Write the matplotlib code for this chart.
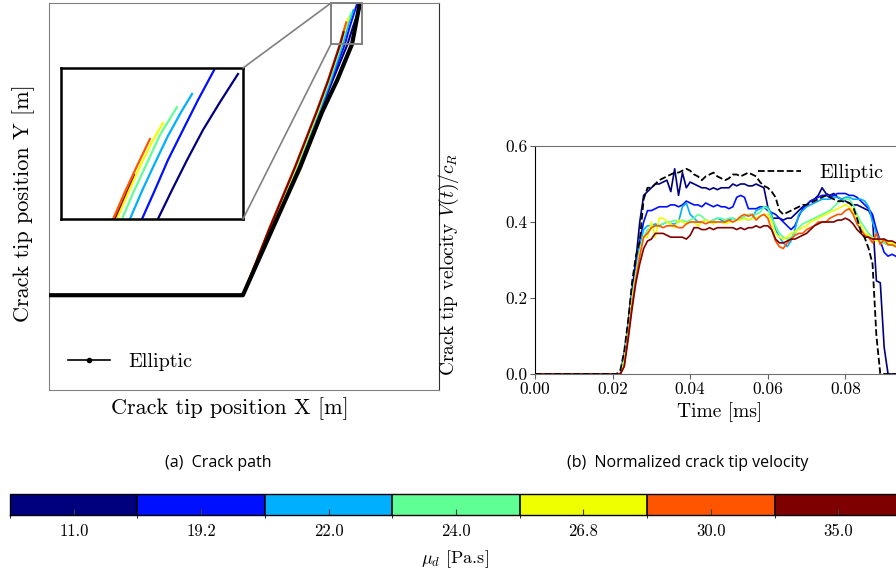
import numpy as np
import matplotlib
matplotlib.use('Agg')
import matplotlib.pyplot as plt
from matplotlib.colors import ListedColormap, BoundaryNorm
from matplotlib.cm import ScalarMappable
from matplotlib.lines import Line2D
from matplotlib.patches import Rectangle, ConnectionPatch
from matplotlib.ticker import FormatStrFormatter

plt.rcParams['font.family'] = 'serif'
plt.rcParams['font.serif'] = ['cmr10']
plt.rcParams['mathtext.fontset'] = 'cm'
plt.rcParams['axes.formatter.use_mathtext'] = True

# dynamic viscosity of each run and the colour used for it
mu_d = [11.0, 19.2, 22.0, 24.0, 26.8, 30.0, 35.0]
mu_colors = ['#00007f', '#0010ff', '#00b0ff', '#60ff96', '#f0ff00', '#ff5500', '#7f0000']

# crack paths (X, Y in m)
path_x_ell = [0.0, 0.0497, 0.0574, 0.0644, 0.0700, 0.0739, 0.0777, 0.0797]
path_y_ell = [0.0245, 0.0245, 0.0419, 0.0576, 0.0718, 0.0801, 0.0894, 0.1000]

path_x_mu11 = [0.0, 0.0497, 0.0571, 0.0638, 0.0695, 0.0727, 0.07656, 0.07718, 0.07784, 0.07854, 0.07929, 0.08008]
path_y_mu11 = [0.0245, 0.0245, 0.0419, 0.0576, 0.0718, 0.0800, 0.0894, 0.09144, 0.09354, 0.09565, 0.09761, 0.09958]
path_x_mu19 = [0.0, 0.0497, 0.0570, 0.0637, 0.0693, 0.0724, 0.07586, 0.07643, 0.07700, 0.07766, 0.07832, 0.07903]
path_y_mu19 = [0.0245, 0.0245, 0.0419, 0.0576, 0.0718, 0.0800, 0.0894, 0.09144, 0.09354, 0.09565, 0.09775, 0.09986]
path_x_mu22 = [0.0, 0.0497, 0.0569, 0.0636, 0.0692, 0.0722, 0.07533, 0.07586, 0.07643, 0.07700, 0.07758, 0.07806]
path_y_mu22 = [0.0245, 0.0245, 0.0419, 0.0576, 0.0718, 0.0800, 0.0894, 0.09137, 0.09333, 0.09523, 0.09691, 0.09818]
path_x_mu24 = [0.0, 0.0497, 0.0568, 0.0634, 0.0689, 0.0719, 0.07498, 0.07551, 0.07608, 0.07665, 0.07740]
path_y_mu24 = [0.0245, 0.0245, 0.0419, 0.0576, 0.0718, 0.0800, 0.0894, 0.09137, 0.09333, 0.09530, 0.09726]
path_x_mu27 = [0.0, 0.0497, 0.0567, 0.0633, 0.0688, 0.0717, 0.07476, 0.07529, 0.07582, 0.07630, 0.07678]
path_y_mu27 = [0.0245, 0.0245, 0.0419, 0.0576, 0.0718, 0.0800, 0.0894, 0.09137, 0.09326, 0.09481, 0.09614]
path_x_mu30 = [0.0, 0.0497, 0.0565, 0.0630, 0.0685, 0.0715, 0.07459, 0.07511, 0.07564, 0.07621]
path_y_mu30 = [0.0245, 0.0245, 0.0419, 0.0576, 0.0718, 0.0800, 0.0894, 0.09130, 0.09312, 0.09502]
path_x_mu35 = [0.0, 0.0497, 0.0566, 0.0631, 0.0686, 0.0716, 0.07467, 0.07511, 0.07551]
path_y_mu35 = [0.0245, 0.0245, 0.0419, 0.0576, 0.0718, 0.0800, 0.0894, 0.09094, 0.09249]

# crack tip velocity V/c_R sampled at t = 0 and every 1e-3 ms from 0.020 to 0.094 ms
time_ms = np.r_[0.0, np.arange(20, 95) / 1000.0]

vel_ell = [0.0,
           0, 0, 0.01, 0.06, 0.14, 0.24, 0.31, 0.35, 0.46,
           0.49, 0.49, 0.50, 0.51, 0.515, 0.52, 0.525, 0.53, 0.53, 0.535,
           0.54, 0.535, 0.525, 0.52, 0.51, 0.52, 0.525, 0.53, 0.52, 0.515,
           0.51, 0.515, 0.525, 0.525, 0.52, 0.525, 0.53, 0.525, 0.52, 0.505,
           0.495, 0.49, 0.48, 0.465, 0.43, 0.42, 0.425, 0.43, 0.435, 0.44,
           0.445, 0.445, 0.45, 0.455, 0.46, 0.465, 0.47, 0.465, 0.46, 0.455,
           0.455, 0.453, 0.45, 0.44, 0.41, 0.375, 0.358, 0.33, 0.29, 0.10,
           0.0, 0, 0, 0, 0, 0]
vel_mu11 = [0.0,
            0, 0, 0, 0.05, 0.13, 0.22, 0.30, 0.40, 0.47,
            0.48, 0.49, 0.50, 0.50, 0.505, 0.51, 0.48, 0.54, 0.47, 0.53,
            0.49, 0.505, 0.50, 0.495, 0.49, 0.49, 0.485, 0.49, 0.485, 0.49,
            0.49, 0.49, 0.50, 0.495, 0.50, 0.50, 0.495, 0.495, 0.50, 0.495,
            0.49, 0.44, 0.41, 0.41, 0.41, 0.405, 0.41, 0.41, 0.42, 0.43,
            0.44, 0.445, 0.455, 0.46, 0.47, 0.49, 0.475, 0.47, 0.475, 0.465,
            0.46, 0.455, 0.45, 0.445, 0.445, 0.44, 0.435, 0.43, 0.41, 0.245,
            0.24, 0.07, 0.0, 0, 0, 0]
vel_mu19 = [0.0,
            0, 0, 0, 0.05, 0.13, 0.21, 0.28, 0.35, 0.40,
            0.43, 0.43, 0.435, 0.44, 0.44, 0.44, 0.445, 0.445, 0.44, 0.445,
            0.455, 0.45, 0.445, 0.445, 0.44, 0.45, 0.445, 0.44, 0.445, 0.44,
            0.44, 0.435, 0.44, 0.465, 0.47, 0.465, 0.435, 0.435, 0.435, 0.44,
            0.44, 0.43, 0.425, 0.42, 0.41, 0.40, 0.39, 0.38, 0.39, 0.415,
            0.435, 0.445, 0.455, 0.46, 0.465, 0.47, 0.47, 0.465, 0.47, 0.475,
            0.475, 0.475, 0.47, 0.47, 0.465, 0.455, 0.445, 0.435, 0.42, 0.38,
            0.35, 0.32, 0.31, 0.315, 0.31, 0.30]
vel_mu22 = [0.0,
            0, 0, 0, 0.04, 0.12, 0.20, 0.27, 0.34, 0.38,
            0.39, 0.39, 0.395, 0.39, 0.395, 0.40, 0.395, 0.395, 0.40, 0.44,
            0.45, 0.42, 0.41, 0.40, 0.40, 0.405, 0.40, 0.405, 0.41, 0.405,
            0.40, 0.405, 0.41, 0.405, 0.41, 0.41, 0.405, 0.41, 0.43, 0.435,
            0.44, 0.44, 0.42, 0.38, 0.36, 0.345, 0.335, 0.35, 0.38, 0.42,
            0.43, 0.44, 0.445, 0.45, 0.455, 0.46, 0.46, 0.46, 0.465, 0.465,
            0.46, 0.465, 0.465, 0.46, 0.46, 0.46, 0.455, 0.44, 0.40, 0.37,
            0.35, 0.345, 0.34, 0.34, 0.34, 0.335]
vel_mu24 = [0.0,
            0, 0, 0, 0.04, 0.12, 0.20, 0.26, 0.32, 0.36,
            0.38, 0.385, 0.39, 0.39, 0.395, 0.40, 0.40, 0.405, 0.40, 0.405,
            0.40, 0.405, 0.41, 0.42, 0.415, 0.405, 0.40, 0.405, 0.41, 0.41,
            0.405, 0.41, 0.41, 0.405, 0.41, 0.415, 0.42, 0.42, 0.42, 0.425,
            0.44, 0.435, 0.41, 0.39, 0.37, 0.36, 0.355, 0.36, 0.37, 0.385,
            0.395, 0.40, 0.405, 0.41, 0.415, 0.42, 0.425, 0.43, 0.44, 0.45,
            0.455, 0.46, 0.46, 0.445, 0.42, 0.40, 0.385, 0.37, 0.36, 0.355,
            0.35, 0.345, 0.34, 0.34, 0.335, 0.335]
vel_mu27 = [0.0,
            0, 0, 0, 0.03, 0.11, 0.19, 0.26, 0.32, 0.36,
            0.36, 0.40, 0.36, 0.41, 0.41, 0.40, 0.395, 0.385, 0.405, 0.40,
            0.395, 0.40, 0.40, 0.39, 0.40, 0.405, 0.40, 0.395, 0.40, 0.40,
            0.395, 0.40, 0.40, 0.405, 0.405, 0.41, 0.405, 0.41, 0.41, 0.415,
            0.42, 0.42, 0.40, 0.37, 0.36, 0.355, 0.36, 0.37, 0.375, 0.38,
            0.385, 0.39, 0.40, 0.405, 0.41, 0.415, 0.42, 0.425, 0.43, 0.435,
            0.44, 0.445, 0.44, 0.43, 0.41, 0.39, 0.37, 0.365, 0.355, 0.35,
            0.355, 0.35, 0.345, 0.345, 0.34, 0.34]
vel_mu30 = [0.0,
            0, 0, 0, 0.02, 0.10, 0.18, 0.25, 0.31, 0.36,
            0.37, 0.385, 0.39, 0.39, 0.385, 0.39, 0.39, 0.39, 0.385, 0.385,
            0.395, 0.40, 0.40, 0.40, 0.40, 0.395, 0.40, 0.40, 0.40, 0.40,
            0.40, 0.405, 0.40, 0.405, 0.415, 0.42, 0.415, 0.42, 0.405, 0.415,
            0.42, 0.41, 0.38, 0.35, 0.335, 0.33, 0.345, 0.355, 0.365, 0.37,
            0.37, 0.38, 0.385, 0.39, 0.40, 0.40, 0.40, 0.41, 0.415, 0.42,
            0.42, 0.43, 0.435, 0.42, 0.395, 0.38, 0.365, 0.36, 0.345, 0.37,
            0.34, 0.355, 0.34, 0.34, 0.335, 0.335]
vel_mu35 = [0.0,
            0, 0, 0, 0.02, 0.09, 0.17, 0.24, 0.29, 0.33,
            0.35, 0.355, 0.37, 0.37, 0.37, 0.365, 0.36, 0.36, 0.36, 0.36,
            0.355, 0.365, 0.385, 0.385, 0.38, 0.38, 0.385, 0.38, 0.385, 0.385,
            0.385, 0.385, 0.385, 0.38, 0.385, 0.38, 0.385, 0.385, 0.39, 0.385,
            0.39, 0.39, 0.38, 0.355, 0.345, 0.345, 0.35, 0.355, 0.355, 0.36,
            0.365, 0.37, 0.38, 0.39, 0.395, 0.40, 0.40, 0.40, 0.40, 0.405,
            0.405, 0.41, 0.405, 0.395, 0.38, 0.37, 0.36, 0.36, 0.355, 0.355,
            0.355, 0.355, 0.35, 0.35, 0.345, 0.34]

paths = [(path_x_mu11, path_y_mu11), (path_x_mu19, path_y_mu19), (path_x_mu22, path_y_mu22),
         (path_x_mu24, path_y_mu24), (path_x_mu27, path_y_mu27), (path_x_mu30, path_y_mu30),
         (path_x_mu35, path_y_mu35)]
velocities = [vel_mu11, vel_mu19, vel_mu22, vel_mu24, vel_mu27, vel_mu30, vel_mu35]

zoom_x = (0.0723, 0.0803)
zoom_y = (0.0894, 0.1000)

fig = plt.figure(figsize=(8.96, 5.75), dpi=100)

# (a) crack path
ax = fig.add_axes([0.0547, 0.3217, 0.4353, 0.6730])
for (px, py), c in zip(paths, mu_colors):
    ax.plot(px, py, color=c, lw=1.5)
ax.plot(path_x_ell, path_y_ell, '-', color='k', lw=3.0, zorder=5, solid_capstyle='butt')
ax.set_xlim(0, 0.1)
ax.set_ylim(0, 0.1)
ax.set_xticks([])
ax.set_yticks([])
for side in ['left', 'top', 'bottom']:
    ax.spines[side].set_color('#808080')
ax.spines['right'].set_color('#303030')
ax.set_xlabel('Crack tip position X [m]', fontsize=16)
ax.set_ylabel('Crack tip position Y [m]', fontsize=16)
ax.xaxis.set_label_coords(0.464, -0.018)
ax.yaxis.set_label_coords(-0.036, 0.483)
ell_handle = Line2D([], [], color='k', lw=1.2, marker='.', ms=6)
ax.legend([ell_handle], ['Elliptic'], loc='center left',
          bbox_to_anchor=(68 / 896, 1 - 362 / 575), bbox_transform=fig.transFigure,
          frameon=False, fontsize=14.5, borderpad=0, borderaxespad=0,
          handlelength=2.1, handletextpad=0.9)

# zoomed view of the crack tips
axins = fig.add_axes([0.0681, 0.6191, 0.2031, 0.2626])
for (px, py), c in zip(paths[::-1], mu_colors[::-1]):
    axins.plot(px, py, color=c, lw=1.6)
axins.set_xlim(*zoom_x)
axins.set_ylim(*zoom_y)
axins.set_xticks([])
axins.set_yticks([])
for s in axins.spines.values():
    s.set_linewidth(1.8)

ax.add_patch(Rectangle((zoom_x[0], zoom_y[0]), zoom_x[1] - zoom_x[0], zoom_y[1] - zoom_y[0],
                       fill=False, ec='#808080', lw=1.4, clip_on=False, zorder=6))
for ins_xy, main_xy in [((1, 1), (zoom_x[0], zoom_y[1])), ((1, 0), (zoom_x[0], zoom_y[0]))]:
    con = ConnectionPatch(xyA=ins_xy, coordsA=axins.transAxes, xyB=main_xy, coordsB=ax.transData,
                          color='#808080', lw=1.2)
    fig.add_artist(con)

# (b) normalized crack tip velocity
ax2 = fig.add_axes([0.5971, 0.3496, 0.4330, 0.3965])
for v, c in zip(velocities, mu_colors):
    ax2.plot(time_ms, v, color=c, lw=1.2)
ax2.plot(time_ms, vel_ell, '--', color='k', lw=1.3, label='Elliptic')
ax2.set_xlim(0, 0.1)
ax2.set_ylim(0, 0.6)
ax2.set_xticks([0.0, 0.02, 0.04, 0.06, 0.08])
ax2.set_yticks([0.0, 0.2, 0.4, 0.6])
ax2.xaxis.set_major_formatter(FormatStrFormatter('%.2f'))
ax2.yaxis.set_major_formatter(FormatStrFormatter('%.1f'))
ax2.tick_params(labelsize=12.5, length=3.5, color='#606060', pad=2)
ax2.spines['left'].set_color('k')
for side in ['top', 'bottom']:
    ax2.spines[side].set_color('#707070')
ax2.spines['right'].set_visible(False)
ax2.set_xlabel('Time [ms]', fontsize=14)
ax2.set_ylabel(r'Crack tip velocity $V(t)/c_R$', fontsize=14)
ax2.xaxis.set_label_coords(0.477, -0.125)
ax2.yaxis.set_label_coords(-0.19, 0.482)
ax2.legend(loc='center left', bbox_to_anchor=(758 / 896, 1 - 173 / 575),
           bbox_transform=fig.transFigure, frameon=False, fontsize=14.5,
           borderpad=0, borderaxespad=0, handlelength=2.15, handletextpad=0.9)

# sub-captions
fig.text(218 / 896, 1 - 463 / 575, '(a)  Crack path', ha='center', va='center',
         family='Open Sans', fontsize=11.5)
fig.text(688 / 896, 1 - 463 / 575, '(b)  Normalized crack tip velocity', ha='center', va='center',
         family='Open Sans', fontsize=11.5)

# discrete colour bar for mu_d
cax = fig.add_axes([0.0112, 0.1043, 0.9955, 0.0365])
cmap = ListedColormap(mu_colors)
norm = BoundaryNorm(np.arange(len(mu_d) + 1), cmap.N)
cb = fig.colorbar(ScalarMappable(norm=norm, cmap=cmap), cax=cax, orientation='horizontal',
                  drawedges=True)
cb.set_ticks(np.arange(len(mu_d)) + 0.5)
cb.set_ticklabels([f'{m:.1f}' for m in mu_d])
cb.outline.set_linewidth(1.0)
cb.dividers.set_linewidth(1.2)
cax.tick_params(direction='in', length=4, color='#404040', labelsize=12, pad=6)
cb.set_label(r'$\mu_d$ [Pa.s]', fontsize=13)
cax.xaxis.set_label_coords(0.499, -1.6)

fig.savefig('out.png', dpi=100)
